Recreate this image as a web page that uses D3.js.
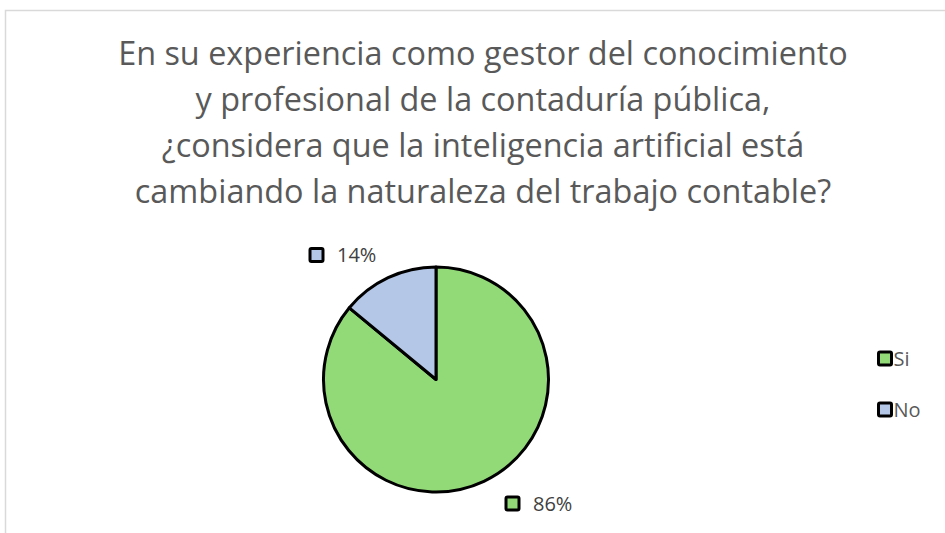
<!DOCTYPE html>
<html><head><meta charset="utf-8">
<script src="https://cdn.jsdelivr.net/npm/d3@7/dist/d3.min.js"></script>
<style>body{margin:0;background:#fff}svg{display:block}</style>
</head><body>
<svg id="c" width="945" height="533"></svg>
<script>
const categories = ["Si", "No"];
const values = [86, 14];
const labels = ["86%", "14%"];
const colors = ["#92D978", "#B4C7E7"];
const titleLines = [
  "En su experiencia como gestor del conocimiento",
  "y profesional de la contaduría pública,",
  "¿considera que la inteligencia artificial está",
  "cambiando la naturaleza del trabajo contable?"
];

const svg = d3.select("#c");
const font = "'Open Sans', 'Noto Sans', sans-serif";

svg.append("rect").attr("x", 5.5).attr("y", 10.5).attr("width", 960).attr("height", 560)
  .attr("fill", "#fff").attr("stroke", "#d9d9d9").attr("stroke-width", 1.5);

const title = svg.append("g").selectAll("text").data(titleLines).join("text")
  .attr("x", 483).attr("y", (d, i) => 65 + i * 46)
  .attr("text-anchor", "middle").attr("font-family", font).attr("font-size", 28)
  .attr("fill", "#595959").text(d => d);
const w0 = title.node().getComputedTextLength();
title.attr("font-size", 28 * 730 / w0);

const cx = 436, cy = 379.5, r = 112.5;
const pie = d3.pie().sort(null).value(d => d)(values);
const arc = d3.arc().innerRadius(0).outerRadius(r);
const g = svg.append("g").attr("transform", `translate(${cx},${cy})`);
g.selectAll("path").data(pie).join("path")
  .attr("d", arc).attr("fill", (d, i) => colors[i])
  .attr("stroke", "#000").attr("stroke-width", 3).attr("stroke-linejoin", "round");

const labelPos = [[506, 503.5], [310, 255]];
labels.forEach((t, i) => {
  const [x, y] = labelPos[i];
  svg.append("rect").attr("x", x).attr("y", y - 6.5).attr("width", 13).attr("height", 13)
    .attr("fill", colors[i]).attr("stroke", "#000").attr("stroke-width", 3).attr("rx", 1.5);
  svg.append("text").attr("x", x + 27).attr("y", y + 7).attr("font-family", font)
    .attr("font-size", 20).attr("fill", "#404040").text(t);
});

categories.forEach((c, i) => {
  const y = 358.5 + i * 51;
  svg.append("rect").attr("x", 878.5).attr("y", y - 6.5).attr("width", 13).attr("height", 13)
    .attr("fill", colors[i]).attr("stroke", "#000").attr("stroke-width", 3).attr("rx", 1.5);
  svg.append("text").attr("x", 893.5).attr("y", y + 7).attr("font-family", font)
    .attr("font-size", 20).attr("fill", "#595959").text(c);
});
</script>
</body></html>
